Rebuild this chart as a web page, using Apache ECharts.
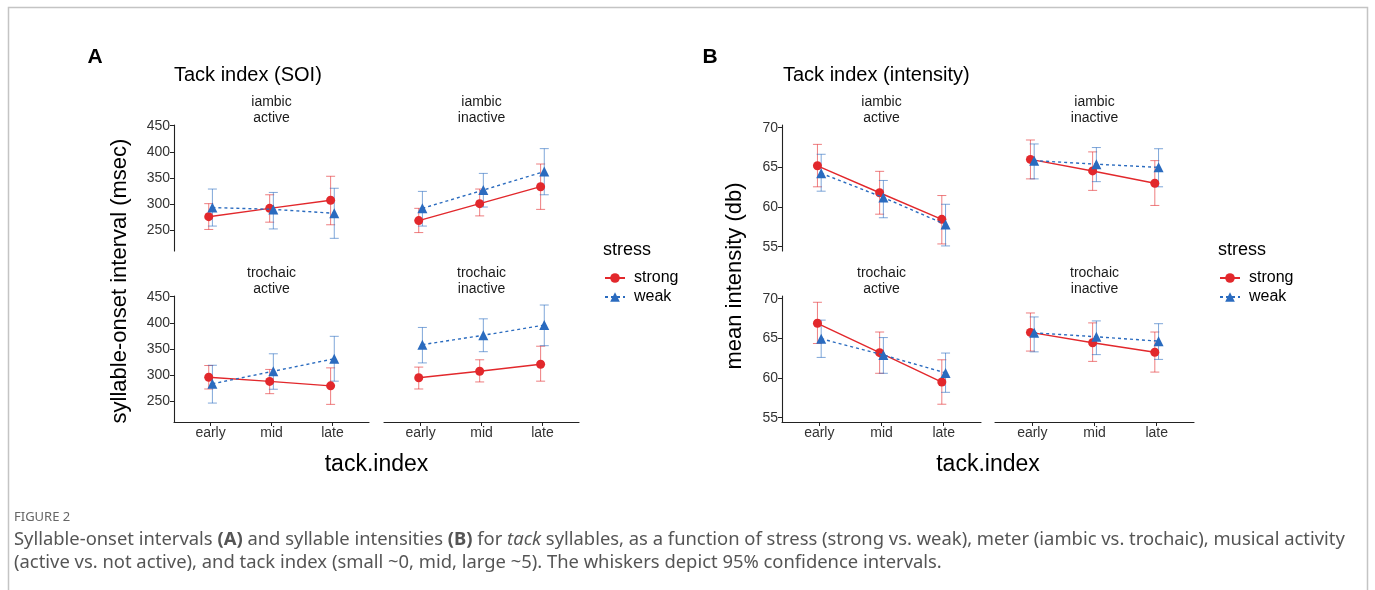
<!DOCTYPE html>
<html>
<head>
<meta charset="UTF-8">
<title>Figure 2</title>
<script src="https://cdn.jsdelivr.net/npm/echarts@6/dist/echarts.min.js"></script>
<style>
html, body { margin: 0; padding: 0; background: #fff; }
#main { width: 1375px; height: 590px; }
</style>
</head>
<body>
<div id="main"></div>
<script>
// x categories and y tick labels
var tackIndex = ['early', 'mid', 'late'];
var soiTicks = [250, 300, 350, 400, 450];
var dbTicks = [55, 60, 65, 70];

// every point is [mean, lower 95% CI, upper 95% CI], in tackIndex order
// panel A: syllable-onset interval (msec)
var soiIambActStrong   = [[275.5, 251, 300.5], [291.5, 265, 317.5], [307, 260, 353]];
var soiIambActWeak     = [[293, 257.5, 328.5], [289.5, 252, 322], [282, 234, 330]];
var soiIambInactStrong = [[268, 245, 291.5], [300.5, 277, 328.5], [333, 289.5, 376.5]];
var soiIambInactWeak   = [[291.5, 257.5, 324], [326.5, 294, 358.5], [362, 317.5, 406]];
var soiTroActStrong    = [[295.5, 273, 318], [287.5, 264, 310.5], [279, 243.5, 313.5]];
var soiTroActWeak      = [[283, 246, 318.5], [307, 272.5, 340.5], [331, 288, 374]];
var soiTroInactStrong  = [[294.5, 273, 315], [307, 286.5, 329], [320.5, 288, 355]];
var soiTroInactWeak    = [[358, 323, 391], [376, 344.5, 407.5], [395.5, 356, 434]];

// panel B: mean intensity (db)
var dbIambActStrong   = [[65.2, 62.55, 67.9], [61.8, 59.1, 64.5], [58.45, 55.35, 61.45]];
var dbIambActWeak     = [[64.25, 62.0, 66.65], [61.2, 58.65, 63.35], [57.8, 55.1, 60.35]];
var dbIambInactStrong = [[66.0, 63.55, 68.45], [64.55, 62.1, 66.95], [63.0, 60.2, 65.85]];
var dbIambInactWeak   = [[65.85, 63.55, 67.95], [65.4, 63.2, 67.5], [65.0, 62.55, 67.35]];
var dbTroActStrong    = [[66.9, 64.35, 69.55], [63.2, 60.6, 65.8], [59.5, 56.7, 62.3]];
var dbTroActWeak      = [[64.95, 62.6, 67.3], [62.9, 60.6, 65.1], [60.65, 58.2, 63.15]];
var dbTroInactStrong  = [[65.75, 63.4, 68.2], [64.45, 62.1, 66.95], [63.25, 60.75, 65.8]];
var dbTroInactWeak    = [[65.7, 63.3, 67.7], [65.2, 62.95, 67.2], [64.65, 62.35, 66.85]];

var RED = '#e2282c';
var BLUE = '#2a6bbf';
var FONT = '"Liberation Sans", Arial, sans-serif';
var DODGE = 0.03;

// panel layout (pixels)
var panelA = { cols: [174, 384], width: 195, min: 209.7, max: 451.3, ticks: soiTicks };
var panelB = { cols: [782, 995], width: 199, min: 54.46, max: 70.34, ticks: dbTicks };
var rowTops = [125, 296];
var rowH = 126;

var facets = [
  [panelA, 0, 0, 'iambic\nactive', soiIambActStrong, soiIambActWeak],
  [panelA, 1, 0, 'iambic\ninactive', soiIambInactStrong, soiIambInactWeak],
  [panelA, 0, 1, 'trochaic\nactive', soiTroActStrong, soiTroActWeak],
  [panelA, 1, 1, 'trochaic\ninactive', soiTroInactStrong, soiTroInactWeak],
  [panelB, 0, 0, 'iambic\nactive', dbIambActStrong, dbIambActWeak],
  [panelB, 1, 0, 'iambic\ninactive', dbIambInactStrong, dbIambInactWeak],
  [panelB, 0, 1, 'trochaic\nactive', dbTroActStrong, dbTroActWeak],
  [panelB, 1, 1, 'trochaic\ninactive', dbTroInactStrong, dbTroInactWeak]
];

function errorBars(color) {
  return function (params, api) {
    var x = api.value(0);
    var lo = api.coord([x, api.value(1)]);
    var hi = api.coord([x, api.value(2)]);
    var w = 4.5;
    var st = { stroke: color, lineWidth: 1, opacity: 0.6 };
    return {
      type: 'group',
      children: [
        { type: 'line', shape: { x1: lo[0], y1: lo[1], x2: hi[0], y2: hi[1] }, style: st },
        { type: 'line', shape: { x1: lo[0] - w, y1: lo[1], x2: lo[0] + w, y2: lo[1] }, style: st },
        { type: 'line', shape: { x1: hi[0] - w, y1: hi[1], x2: hi[0] + w, y2: hi[1] }, style: st }
      ]
    };
  };
}

var grids = [], xAxes = [], yAxes = [], series = [], graphics = [];

facets.forEach(function (f, k) {
  var p = f[0], col = f[1], row = f[2];
  var left = p.cols[col];
  grids.push({ left: left, top: rowTops[row], width: p.width, height: rowH });
  // x axis only in the bottom row, y axis only in the left column
  xAxes.push({
    gridIndex: k, type: 'value', min: -0.6, max: 2.6, show: row === 1,
    axisLine: { show: true, onZero: false, lineStyle: { color: '#222', width: 1.1 } },
    axisTick: { show: true, length: 4, customValues: [0, 1, 2], lineStyle: { color: '#222' } },
    axisLabel: { customValues: [0, 1, 2], margin: 4, color: '#333', fontSize: 14, fontFamily: FONT,
      formatter: function (v) { return tackIndex[v]; } },
    splitLine: { show: false }
  });
  yAxes.push({
    gridIndex: k, type: 'value', min: p.min, max: p.max, show: col === 0,
    axisLine: { show: true, onZero: false, lineStyle: { color: '#222', width: 1.1 } },
    axisTick: { show: true, length: 4, customValues: p.ticks, lineStyle: { color: '#222' } },
    axisLabel: { customValues: p.ticks, margin: 4, color: '#333', fontSize: 14, fontFamily: FONT },
    splitLine: { show: false }
  });
  var strong = f[4], weak = f[5];
  series.push({
    type: 'custom', xAxisIndex: k, yAxisIndex: k, z: 1, silent: true,
    renderItem: errorBars(RED),
    data: strong.map(function (d, i) { return [i - DODGE, d[1], d[2]]; })
  });
  series.push({
    type: 'custom', xAxisIndex: k, yAxisIndex: k, z: 1, silent: true,
    renderItem: errorBars(BLUE),
    data: weak.map(function (d, i) { return [i + DODGE, d[1], d[2]]; })
  });
  series.push({
    type: 'line', name: 'strong', xAxisIndex: k, yAxisIndex: k, z: 3,
    symbol: 'circle', symbolSize: 9,
    lineStyle: { color: RED, width: 1.4 }, itemStyle: { color: RED },
    data: strong.map(function (d, i) { return [i - DODGE, d[0]]; })
  });
  series.push({
    type: 'line', name: 'weak', xAxisIndex: k, yAxisIndex: k, z: 4,
    symbol: 'triangle', symbolSize: 10,
    lineStyle: { color: BLUE, width: 1.4, type: [3, 3] }, itemStyle: { color: BLUE },
    data: weak.map(function (d, i) { return [i + DODGE, d[0]]; })
  });
  // strip label
  var lines = f[3].split('\n');
  var cx = left + p.width / 2;
  var sy = rowTops[row] - 23;
  graphics.push({ type: 'text', x: cx, y: sy, style: { text: lines[0], align: 'center', verticalAlign: 'middle', fontSize: 14, fontFamily: FONT, fill: '#1a1a1a' } });
  graphics.push({ type: 'text', x: cx, y: sy + 16, style: { text: lines[1], align: 'center', verticalAlign: 'middle', fontSize: 14, fontFamily: FONT, fill: '#1a1a1a' } });
});

function txt(x, y, s, size, extra) {
  var style = { text: s, fontSize: size, fontFamily: FONT, fill: '#000', verticalAlign: 'middle' };
  for (var key in extra) style[key] = extra[key];
  return { type: 'text', x: x, y: y, style: style };
}

graphics.push({ type: 'rect', shape: { x: 8.5, y: 7.5, width: 1359, height: 700 }, style: { fill: 'none', stroke: '#c4c4c4', lineWidth: 1.5 } });
graphics.push(txt(95, 57, 'A', 21, { fontWeight: 'bold', align: 'center' }));
graphics.push(txt(710, 57, 'B', 21, { fontWeight: 'bold', align: 'center' }));
graphics.push(txt(174, 75, 'Tack index (SOI)', 20, {}));
graphics.push(txt(783, 75, 'Tack index (intensity)', 20, {}));
graphics.push(txt(376.5, 465, 'tack.index', 23, { align: 'center' }));
graphics.push(txt(988, 465, 'tack.index', 23, { align: 'center' }));
var yA = txt(0, 0, 'syllable-onset interval (msec)', 22, { align: 'center' });
yA.x = 120; yA.y = 281; yA.rotation = Math.PI / 2;
graphics.push(yA);
var yB = txt(0, 0, 'mean intensity (db)', 22, { align: 'center' });
yB.x = 735; yB.y = 276; yB.rotation = Math.PI / 2;
graphics.push(yB);
graphics.push(txt(603, 250, 'stress', 18, {}));
graphics.push(txt(1218, 250, 'stress', 18, {}));

// caption
var CAP = '"Noto Sans", sans-serif';
graphics.push({ type: 'text', x: 14, y: 517, style: { text: 'FIGURE 2', fontSize: 13, fontFamily: CAP, fill: '#666', verticalAlign: 'middle' } });
var capRich = {
  r: { fontSize: 18.4, fontFamily: CAP, fill: '#555' },
  b: { fontSize: 18.4, fontFamily: CAP, fill: '#555', fontWeight: 'bold' },
  i: { fontSize: 18.4, fontFamily: CAP, fill: '#555', fontStyle: 'italic' }
};
graphics.push({ type: 'text', x: 14, y: 540, style: {
  text: '{r|Syllable-onset intervals }{b|(A)}{r| and syllable intensities }{b|(B)}{r| for }{i|tack}{r| syllables, as a function of stress (strong vs. weak), meter (iambic vs. trochaic), musical activity}',
  rich: capRich, verticalAlign: 'middle' } });
graphics.push({ type: 'text', x: 14, y: 563, style: {
  text: '{r|(active vs. not active), and tack index (small ~0, mid, large ~5). The whiskers depict 95% confidence intervals.}',
  rich: capRich, verticalAlign: 'middle' } });

var legendBase = {
  orient: 'vertical', data: ['strong', 'weak'], itemWidth: 20, itemHeight: 12, itemGap: 3,
  padding: 0, selectedMode: false,
  textStyle: { fontSize: 16, fontFamily: FONT, color: '#000', padding: [0, 0, 0, 4] }
};
var legA = Object.assign({}, legendBase, { left: 604, top: 270 });
var legB = Object.assign({}, legendBase, { left: 1219, top: 270 });

var myChart = echarts.init(document.getElementById('main'));
myChart.setOption({
  animation: false,
  textStyle: { fontFamily: FONT },
  grid: grids,
  xAxis: xAxes,
  yAxis: yAxes,
  legend: [legA, legB],
  series: series,
  graphic: graphics
});
</script>
</body>
</html>
